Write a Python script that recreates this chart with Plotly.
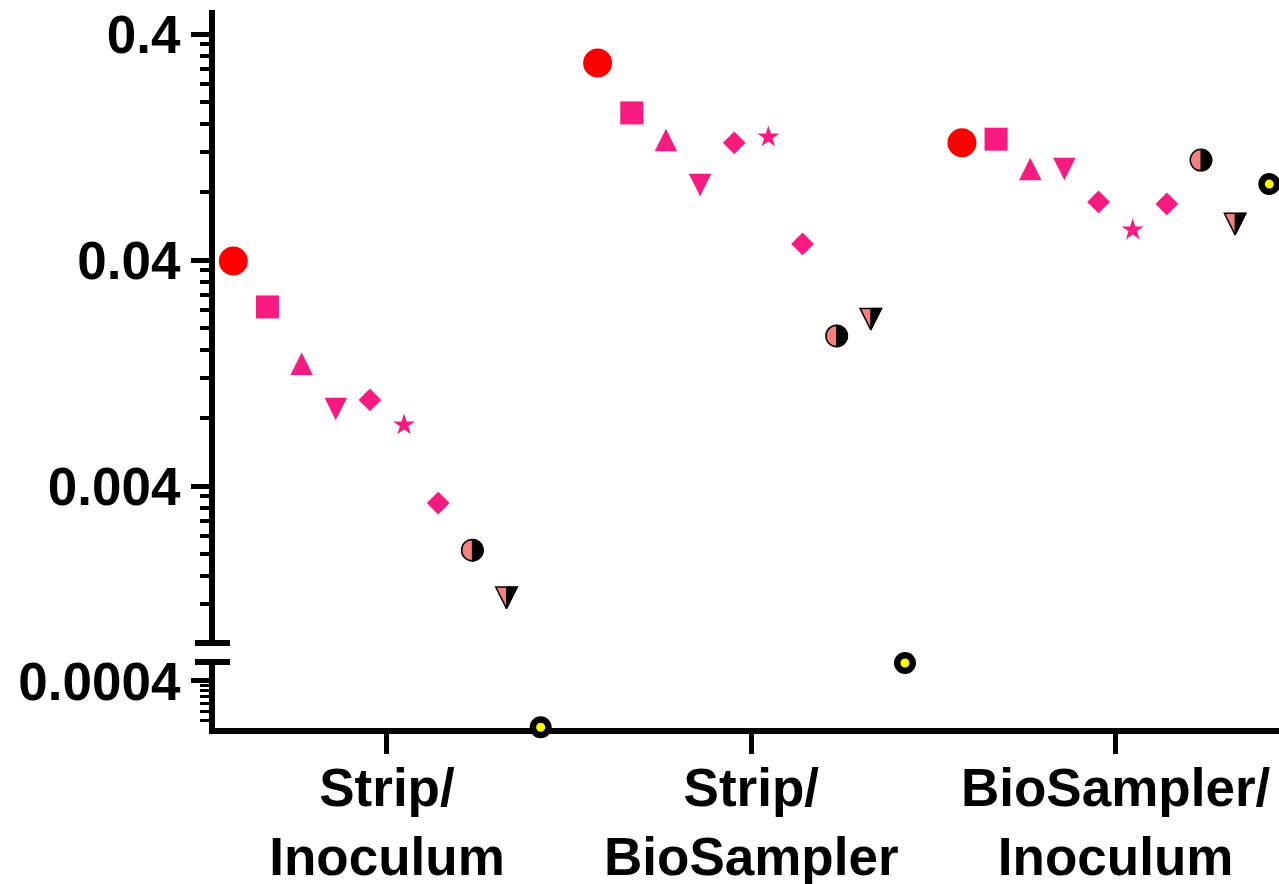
import plotly.graph_objects as go

# ---------------- data ----------------
categories = ["Strip/<br>Inoculum", "Strip/<br>BioSampler", "BioSampler/<br>Inoculum"]
series_names = ["Series 1", "Series 2", "Series 3", "Series 4", "Series 5",
                "Series 6", "Series 7", "Series 8", "Series 9", "Series 10"]

s1_red_circle = [0.0396, 0.298, 0.132]
s2_square = [0.0248, 0.179, 0.137]
s3_tri_up = [0.0139, 0.136, 0.101]
s4_tri_down = [0.00877, 0.0859, 0.101]
s5_diamond = [0.00962, 0.132, 0.0723]
s6_star = [0.00745, 0.140, 0.0543]
s7_diamond = [0.00336, 0.0471, 0.0708]
s8_half_circle = [0.00208, 0.01845, 0.1107]
s9_half_tri = [0.00128, 0.0219, 0.0577]
s10_yellow = [0.000138, 0.000605, 0.0867]

upper_tickvals = [0.4, 0.04, 0.004]
upper_ticktext = ["0.4", "0.04", "0.004"]
lower_tickvals = [0.0004]
lower_ticktext = ["0.0004"]
upper_minor = [k * 0.0004 for k in range(2, 10)] + [k * 0.004 for k in range(2, 10)] + [k * 0.04 for k in range(2, 10)]
lower_minor = [k * 0.00004 for k in range(3, 10)]
break_value = 0.0008  # values below this are drawn on the lower axis segment

all_series = [s1_red_circle, s2_square, s3_tri_up, s4_tri_down, s5_diamond,
              s6_star, s7_diamond, s8_half_circle, s9_half_tri, s10_yellow]

# ---------------- styles ----------------
PINK = "#F71A80"
SALMON = "#F4817C"
styles = [
    dict(symbol="circle", size=29, color="#FF0000"),
    dict(symbol="square", size=23, color=PINK),
    dict(symbol="arrow-down", size=22.5, color=PINK, angle=180, standoff=11.25),
    dict(symbol="arrow-down", size=22.5, color=PINK, angle=0, standoff=11.25),
    dict(symbol="diamond", size=17.5, color=PINK),
    dict(symbol="star", size=16.5, color=PINK),
    dict(symbol="diamond", size=17.5, color=PINK),
    dict(symbol="circle", size=21.5, color=SALMON, line=dict(color="black", width=1.5), half="circle"),
    dict(symbol="arrow-down", size=21.5, color=SALMON, angle=0, standoff=10.75,
         line=dict(color="black", width=1.5), half="tri"),
    dict(symbol="circle", size=15.5, color="#FFFF00", line=dict(color="black", width=6.5)),
]

n_series = len(all_series)
spacing = 0.09374
FONT = "Liberation Sans, Arial, sans-serif"

fig = go.Figure()
shapes = []

for i, (vals, st, name) in enumerate(zip(all_series, styles, series_names)):
    off = (i - (n_series - 1) / 2) * spacing
    xs = [g + off for g in range(len(categories))]
    marker = dict(symbol=st["symbol"], size=st["size"], color=st["color"],
                  line=st.get("line", dict(width=0)))
    if "angle" in st:
        marker["angle"] = st["angle"]
    if "standoff" in st:
        marker["standoff"] = st["standoff"]
    for axis_name, keep in (("y", lambda v: v >= break_value), ("y2", lambda v: v < break_value)):
        px = [x for x, v in zip(xs, vals) if keep(v)]
        py = [v for v in vals if keep(v)]
        if not px:
            continue
        fig.add_trace(go.Scatter(x=px, y=py, mode="markers", marker=marker, name=name,
                                 yaxis=axis_name, xaxis="x", cliponaxis=False,
                                 showlegend=False))
        half = st.get("half")
        if half:
            R = st["size"] / 2
            k = 0.5523 * R
            if half == "circle":
                path = (f"M0,{R} C{k},{R} {R},{k} {R},0 "
                        f"C{R},{-k} {k},{-R} 0,{-R} Z")
            else:
                path = f"M0,{R} L{R},{R} L0,{-R} Z"
            for x, v in zip(px, py):
                shapes.append(dict(type="path", xref="x", yref=axis_name,
                                   xsizemode="pixel", ysizemode="pixel",
                                   xanchor=x, yanchor=v, path=path,
                                   fillcolor="black", line=dict(color="black", width=1),
                                   layer="above"))

# axis-break caps
for yref, ypos in (("y domain", 0), ("y2 domain", 1)):
    shapes.append(dict(type="line", xref="x domain", yref=yref, xsizemode="pixel",
                       xanchor=0, x0=-20, x1=15, y0=ypos, y1=ypos,
                       line=dict(color="black", width=6), layer="above"))

tickfont = dict(family=FONT, size=53, color="black", weight="bold")

fig.update_layout(
    width=1279, height=884,
    margin=dict(l=215, r=0, t=10, b=156, autoexpand=False),
    paper_bgcolor="white", plot_bgcolor="white",
    showlegend=False,
    shapes=shapes,
    xaxis=dict(range=[-0.4721, 2.4485], anchor="y2", showline=True, linewidth=6,
               linecolor="black", ticks="outside", ticklen=20, tickwidth=5,
               tickcolor="black", tickvals=list(range(len(categories))),
               ticktext=categories, tickfont=tickfont, showgrid=False,
               zeroline=False, layer="below traces", automargin=False,
               ticklabelstandoff=-12),
    yaxis=dict(type="log", range=[-3.0926, -0.2917], domain=[0.11838, 1], anchor="x",
               showline=True, linewidth=6, linecolor="black", ticks="outside",
               ticklen=18, tickwidth=5, tickcolor="black",
               tickvals=upper_tickvals, ticktext=upper_ticktext, tickfont=tickfont,
               showgrid=False, zeroline=False, layer="below traces", automargin=False,
               minor=dict(tickvals=upper_minor, ticks="outside", ticklen=9,
                          tickwidth=4, tickcolor="black", showgrid=False)),
    yaxis2=dict(type="log", range=[-3.868, -3.208], domain=[0, 0.09192], anchor="x",
                showline=True, linewidth=6, linecolor="black", ticks="outside",
                ticklen=18, tickwidth=5, tickcolor="black",
                tickvals=lower_tickvals, ticktext=lower_ticktext, tickfont=tickfont,
                showgrid=False, zeroline=False, layer="below traces", automargin=False,
                minor=dict(tickvals=lower_minor, ticks="outside", ticklen=9,
                           tickwidth=3, tickcolor="black", showgrid=False)),
)

fig.write_html("out.html")
